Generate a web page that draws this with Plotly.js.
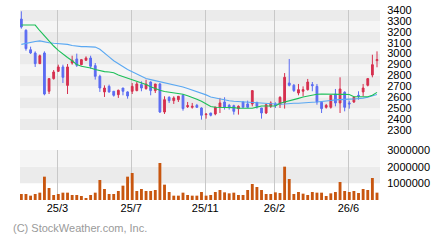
<!DOCTYPE html>
<html>
<head>
<meta charset="utf-8">
<script src="https://cdn.plot.ly/plotly-3.0.1.min.js"></script>
<style>html,body{margin:0;padding:0;background:#fff;}#chart{width:440px;height:240px;}</style>
</head>
<body>
<div id="chart"></div>
<script>
// ---- data ----
const openP  = [3317,3214,3036,3006,2908,3006,2655,2771,2838,2878,2709,2914,2951,2899,2939,2960,2890,2792,2649,2700,2655,2624,2685,2649,2655,2661,2716,2679,2740,2661,2722,2465,2600,2569,2578,2618,2514,2508,2526,2502,2441,2456,2447,2508,2557,2526,2523,2496,2557,2539,2539,2554,2502,2456,2517,2539,2532,2548,2731,2710,2639,2655,2670,2716,2700,2554,2508,2508,2630,2548,2646,2548,2557,2618,2649,2710,2804,2936];
const highP  = [3388,3223,3064,3021,2991,3021,2771,2850,2899,2899,2905,2981,3000,2951,2975,2981,2914,2807,2709,2716,2655,2670,2685,2655,2731,2740,2746,2761,2746,2722,2731,2609,2609,2609,2609,2630,2557,2548,2539,2508,2447,2456,2511,2594,2600,2539,2532,2526,2563,2569,2661,2557,2502,2539,2563,2554,2609,2822,2951,2722,2722,2700,2768,2740,2722,2563,2539,2618,2676,2783,2655,2569,2609,2655,2722,2777,2990,3021];
const lowP   = [3229,3027,2997,2878,2905,2618,2630,2762,2832,2731,2630,2899,2878,2893,2936,2862,2762,2649,2603,2642,2606,2594,2618,2587,2630,2655,2655,2670,2618,2639,2456,2447,2548,2539,2557,2477,2502,2496,2502,2395,2404,2425,2435,2456,2487,2487,2441,2441,2508,2502,2517,2496,2404,2447,2502,2502,2502,2496,2700,2649,2618,2609,2661,2655,2532,2456,2496,2496,2517,2456,2471,2496,2548,2578,2609,2700,2783,2875];
const closeP = [3244,3046,3006,2908,2981,2630,2771,2832,2878,2783,2878,2939,2893,2945,2960,2884,2792,2685,2685,2649,2618,2664,2655,2612,2700,2722,2685,2722,2661,2722,2465,2578,2569,2594,2609,2496,2523,2517,2508,2435,2447,2435,2511,2548,2508,2508,2471,2517,2508,2508,2661,2517,2456,2532,2548,2526,2600,2783,2710,2661,2670,2670,2740,2707,2557,2496,2526,2618,2548,2676,2508,2539,2600,2609,2685,2771,2899,2945];
const maShort = [3262,3262,3262,3262,3210,3160,3110,3070,3030,2995,2965,2935,2900,2884,2878,2868,2855,2842,2835,2831,2825,2805,2790,2775,2763,2748,2735,2718,2697,2678,2664,2653,2647,2643,2636,2627,2614,2600,2582,2563,2535,2515,2508,2508,2508,2508,2505,2500,2499,2499,2500,2510,2520,2520,2520,2520,2545,2555,2563,2575,2590,2602,2612,2622,2628,2630,2628,2627,2627,2627,2627,2626,2605,2603,2603,2605,2618,2645];
const maLong  = [3085,3095,3104,3112,3117,3106,3100,3095,3092,3088,3085,3075,3066,3064,3064,3064,3060,3040,3008,2970,2935,2906,2880,2855,2835,2812,2792,2772,2762,2752,2741,2733,2726,2718,2708,2695,2680,2666,2652,2640,2622,2602,2592,2582,2575,2568,2564,2561,2559,2556,2553,2549,2545,2541,2539,2538,2536,2538,2543,2545,2545,2546,2550,2554,2557,2560,2565,2570,2576,2580,2582,2583,2584,2586,2592,2600,2612,2625];
const volume = [360000,360000,260000,360000,440000,1400000,720000,300000,360000,440000,440000,300000,300000,240000,120000,300000,440000,1200000,660000,360000,360000,540000,860000,1400000,1620000,540000,660000,540000,540000,600000,2220000,920000,480000,260000,260000,440000,300000,260000,260000,480000,260000,300000,480000,600000,460000,400000,440000,300000,300000,600000,960000,780000,600000,360000,360000,460000,420000,2000000,1260000,360000,480000,380000,300000,480000,440000,440000,240000,400000,480000,1080000,540000,480000,540000,420000,660000,600000,1320000,440000];
const gridIdx   = [8,24,40,55,71];
const gridText  = ['25/3','25/7','25/11','26/2','26/6'];
const priceTicks = [2300,2400,2500,2600,2700,2800,2900,3000,3100,3200,3300,3400];
const volTicks   = [1000000,2000000,3000000];

// ---- styles ----
const RED='#d6304f', BLUE='#5b6cf2', GREEN='#1cbf58', LBLUE='#5aa8f2', VOL='#c8560f';
const DARK='#ebebeb', LIGHT='#f5f5f5', GRID='#c8c8c8';
const idx = openP.map((_,i)=>i);
const gridPos = gridIdx.map(v=>v-0.2);

const traces = [
  {type:'candlestick', x:idx, open:openP, high:highP, low:lowP, close:closeP,
   xaxis:'x', yaxis:'y', whiskerwidth:0,
   increasing:{line:{color:RED,width:1}, fillcolor:RED},
   decreasing:{line:{color:BLUE,width:1}, fillcolor:BLUE},
   hoverinfo:'skip', showlegend:false},
  {type:'scatter', mode:'lines', x:idx, y:maLong, xaxis:'x', yaxis:'y',
   line:{color:LBLUE,width:1.1}, hoverinfo:'skip', showlegend:false},
  {type:'scatter', mode:'lines', x:idx, y:maShort, xaxis:'x', yaxis:'y',
   line:{color:GREEN,width:1.1}, hoverinfo:'skip', showlegend:false},
  {type:'bar', x:idx, y:volume, xaxis:'x2', yaxis:'y2', width:0.62,
   marker:{color:VOL}, hoverinfo:'skip', showlegend:false}
];

const shapes = [];
for (let i=0;i<priceTicks.length-1;i++){
  shapes.push({type:'rect', layer:'below', xref:'paper', yref:'y', x0:0, x1:1,
    y0:priceTicks[i], y1:priceTicks[i+1], fillcolor:(i%2===0)?DARK:LIGHT, line:{width:0}});
}
const volBands=[0].concat(volTicks);
const volColors=['#ffffff',DARK,LIGHT];
for (let i=0;i<volBands.length-1;i++){
  shapes.push({type:'rect', layer:'below', xref:'paper', yref:'y2', x0:0, x1:1,
    y0:volBands[i], y1:volBands[i+1], fillcolor:volColors[i], line:{width:0}});
}

const FONT = {family:'"Liberation Sans", Arial, sans-serif', size:11, color:'#000'};
const xr = [-0.29, 77.65];
const layout = {
  width:440, height:240,
  margin:{l:20, r:60, t:10, b:40, pad:0},
  paper_bgcolor:'#fff', plot_bgcolor:'rgba(0,0,0,0)',
  font:FONT, showlegend:false, boxgap:0.45,
  xaxis:{domain:[0,1], anchor:'y', range:xr, tickvals:gridPos, ticktext:gridText,
    showticklabels:false, showgrid:true, gridcolor:GRID, gridwidth:1, zeroline:false,
    showline:false, ticks:'', rangeslider:{visible:false}, fixedrange:true},
  yaxis:{domain:[0.3684,1], anchor:'x', side:'right', range:[2300,3400], tickvals:priceTicks,
    ticktext:priceTicks.map(String), showgrid:false, zeroline:false, showline:false,
    ticks:'outside', ticklen:4, tickcolor:'rgba(0,0,0,0)', tickfont:FONT},
  xaxis2:{domain:[0,1], anchor:'y2', matches:'x', range:xr, tickvals:gridPos, ticktext:gridText,
    showgrid:true, gridcolor:GRID, gridwidth:1, zeroline:false, showline:false,
    ticks:'', tickfont:FONT, rangeslider:{visible:false}},
  yaxis2:{domain:[0,0.2632], anchor:'x2', side:'right', range:[0,3000000], tickvals:volTicks,
    ticktext:volTicks.map(String), showgrid:false, zeroline:false, showline:false,
    ticks:'outside', ticklen:4, tickcolor:'rgba(0,0,0,0)', tickfont:FONT},
  shapes:shapes,
  annotations:[{xref:'paper', yref:'paper', x:-0.025, y:-0.145, xanchor:'left', yanchor:'middle',
    text:'(C) StockWeather.com, Inc.', showarrow:false,
    font:{family:'"Liberation Sans", Arial, sans-serif', size:11, color:'#9a9a9a'}}]
};

Plotly.newPlot('chart', traces, layout, {displayModeBar:false, staticPlot:true});
</script>
</body>
</html>
